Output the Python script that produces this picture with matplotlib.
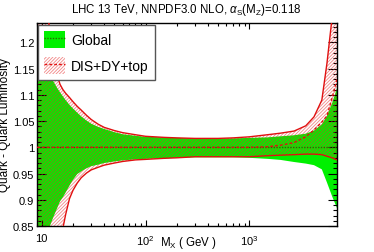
import matplotlib
matplotlib.use("Agg")
import matplotlib.pyplot as plt
from matplotlib.patches import Patch
from matplotlib.lines import Line2D
from matplotlib.ticker import FixedLocator, NullFormatter, MultipleLocator

plt.rcParams['font.family'] = ['Liberation Sans', 'DejaVu Sans']
plt.rcParams['mathtext.fontset'] = 'custom'
plt.rcParams['mathtext.rm'] = 'Liberation Sans'
plt.rcParams['mathtext.it'] = 'Liberation Sans:italic'
plt.rcParams['mathtext.sf'] = 'Liberation Sans'
plt.rcParams['hatch.linewidth'] = 0.6

# ---- data ----
mass = [9, 10, 11, 12, 13, 14, 15, 16, 17, 18.5, 20, 22, 24, 27, 30, 35, 40, 50, 60, 80,
        100, 150, 200, 300, 500, 700, 1000, 1500, 2000, 2700, 3500, 4200, 5000, 5600, 6300, 7000]

global_up = [1.215, 1.185, 1.160, 1.140, 1.125, 1.114, 1.105, 1.097, 1.090, 1.081, 1.074, 1.066,
             1.059, 1.051, 1.045, 1.039, 1.035, 1.029, 1.025, 1.022, 1.020, 1.019, 1.018, 1.017,
             1.017, 1.017, 1.018, 1.019, 1.021, 1.023, 1.026, 1.032, 1.044, 1.060, 1.085, 1.113]
global_lo = [0.700, 0.760, 0.810, 0.850, 0.868, 0.883, 0.897, 0.905, 0.914, 0.927, 0.938, 0.949,
             0.954, 0.960, 0.964, 0.967, 0.970, 0.973, 0.975, 0.977, 0.978, 0.979, 0.980, 0.981,
             0.981, 0.981, 0.980, 0.978, 0.976, 0.972, 0.969, 0.966, 0.958, 0.933, 0.906, 0.884]
global_cv = [1.0] * len(mass)

dis_up = [1.450, 1.360, 1.280, 1.220, 1.170, 1.140, 1.120, 1.110, 1.103, 1.095, 1.087, 1.078,
          1.071, 1.061, 1.053, 1.044, 1.038, 1.032, 1.028, 1.024, 1.021, 1.019, 1.018, 1.017,
          1.017, 1.018, 1.020, 1.024, 1.027, 1.031, 1.041, 1.058, 1.090, 1.160, 1.250, 1.320]
dis_lo = [0.550, 0.600, 0.660, 0.710, 0.750, 0.790, 0.825, 0.846, 0.872, 0.902, 0.918, 0.932,
          0.942, 0.951, 0.957, 0.962, 0.966, 0.970, 0.973, 0.976, 0.977, 0.979, 0.980, 0.982,
          0.982, 0.982, 0.982, 0.984, 0.985, 0.986, 0.987, 0.987, 0.986, 0.983, 0.980, 0.976]
dis_cv = [1.0, 1.0, 1.0, 1.0, 1.0, 1.0, 1.0, 1.0, 1.0, 1.0, 1.0, 1.0, 1.0, 1.0, 1.0, 1.0, 1.0,
          1.0, 1.0, 1.0, 1.0, 1.0, 1.0, 1.0, 1.0, 1.0, 1.0, 1.001, 1.004, 1.009, 1.020, 1.033,
          1.048, 1.060, 1.095, 1.130]

ytick_vals = [0.85, 0.9, 0.95, 1.0, 1.05, 1.1, 1.15, 1.2]
ytick_labels = ['0.85', '0.9', '0.95', '1', '1.05', '1.1', '1.15', '1.2']
xtick_vals = [10, 100, 1000]
xtick_labels = ['10', r'$10^{2}$', r'$10^{3}$']

green = '#00f000'
red = '#e01010'
hatch_red = (0.9, 0.15, 0.15, 0.55)
hatch = '//////////'

fig = plt.figure(figsize=(3.74, 2.53), dpi=100)
W, H = 374, 253
ax = fig.add_axes([37 / W, (H - 227) / H, 300 / W, 203 / H])

ax.fill_between(mass, global_lo, global_up, facecolor=green, edgecolor='none', linewidth=0, zorder=1)
ax.fill_between(mass, dis_lo, dis_up, facecolor='none', edgecolor=hatch_red, hatch=hatch,
                linewidth=0, zorder=2)
ax.plot(mass, dis_up, color=red, lw=1.0, zorder=3)
ax.plot(mass, dis_lo, color=red, lw=1.0, zorder=3)
ax.plot(mass, global_cv, color='#2a6a00', lw=1.0, ls=(0, (1, 1)), zorder=4)
ax.plot(mass, dis_cv, color=red, lw=1.0, ls=(0, (2, 1.5)), zorder=4)

ax.set_xscale('log')
ax.set_xlim(9, 7000)
ax.set_ylim(0.85, 1.237)

ax.xaxis.set_major_locator(FixedLocator(xtick_vals))
ax.set_xticklabels(xtick_labels)
minors = [m * d for d in (1, 10, 100) for m in range(2, 10) if m * d < 7000]
ax.xaxis.set_minor_locator(FixedLocator(minors))
ax.xaxis.set_minor_formatter(NullFormatter())
ax.yaxis.set_major_locator(FixedLocator(ytick_vals))
ax.set_yticklabels(ytick_labels)
ax.yaxis.set_minor_locator(MultipleLocator(0.01))

ax.tick_params(which='both', direction='in', top=True, right=True, labelsize=8, width=0.8)
ax.tick_params(axis='x', which='major', length=4.3, pad=5)
ax.tick_params(axis='x', which='minor', length=2.2)
ax.tick_params(axis='y', which='major', length=6.5, pad=2)
ax.tick_params(axis='y', which='minor', length=3.2)
for s in ax.spines.values():
    s.set_linewidth(1.0)

ax.set_xlabel(r'M$_\mathrm{X}$ ( GeV )', fontsize=8.3)
ax.xaxis.set_label_coords(0.505, -0.04)
ax.xaxis.label.set_va('top')
ax.set_ylabel('Quark - Quark Luminosity', fontsize=8.5)
ax.yaxis.set_label_coords(-0.085, 0.5)

fig.text(186.5 / W, (H - 13.5) / H, r'LHC 13 TeV, NNPDF3.0 NLO, $\alpha_\mathrm{S}(\mathrm{M}_\mathrm{Z})$=0.118',
         ha='center', va='baseline', fontsize=8.3)

h_global = (Patch(facecolor=green, edgecolor='none'),
            Line2D([0], [0], color='#2a6a00', lw=1.0, ls=(0, (1, 1))))
h_dis = (Patch(facecolor='white', edgecolor=hatch_red, hatch=hatch, linewidth=0),
         Line2D([0], [0], color=red, lw=1.0, ls=(0, (2, 1.5))))
leg = ax.legend([h_global, h_dis], ['Global', 'DIS+DY+top'], loc='upper left',
                bbox_to_anchor=(0.004, 0.99), fontsize=10, handlelength=1.5, handleheight=1.5,
                labelspacing=0.65, borderpad=0.45, handletextpad=0.4, borderaxespad=0,
                fancybox=False, framealpha=1, edgecolor='#555555')
leg.get_frame().set_linewidth(1.0)
leg.set_zorder(10)

fig.savefig('out.png', dpi=100)
